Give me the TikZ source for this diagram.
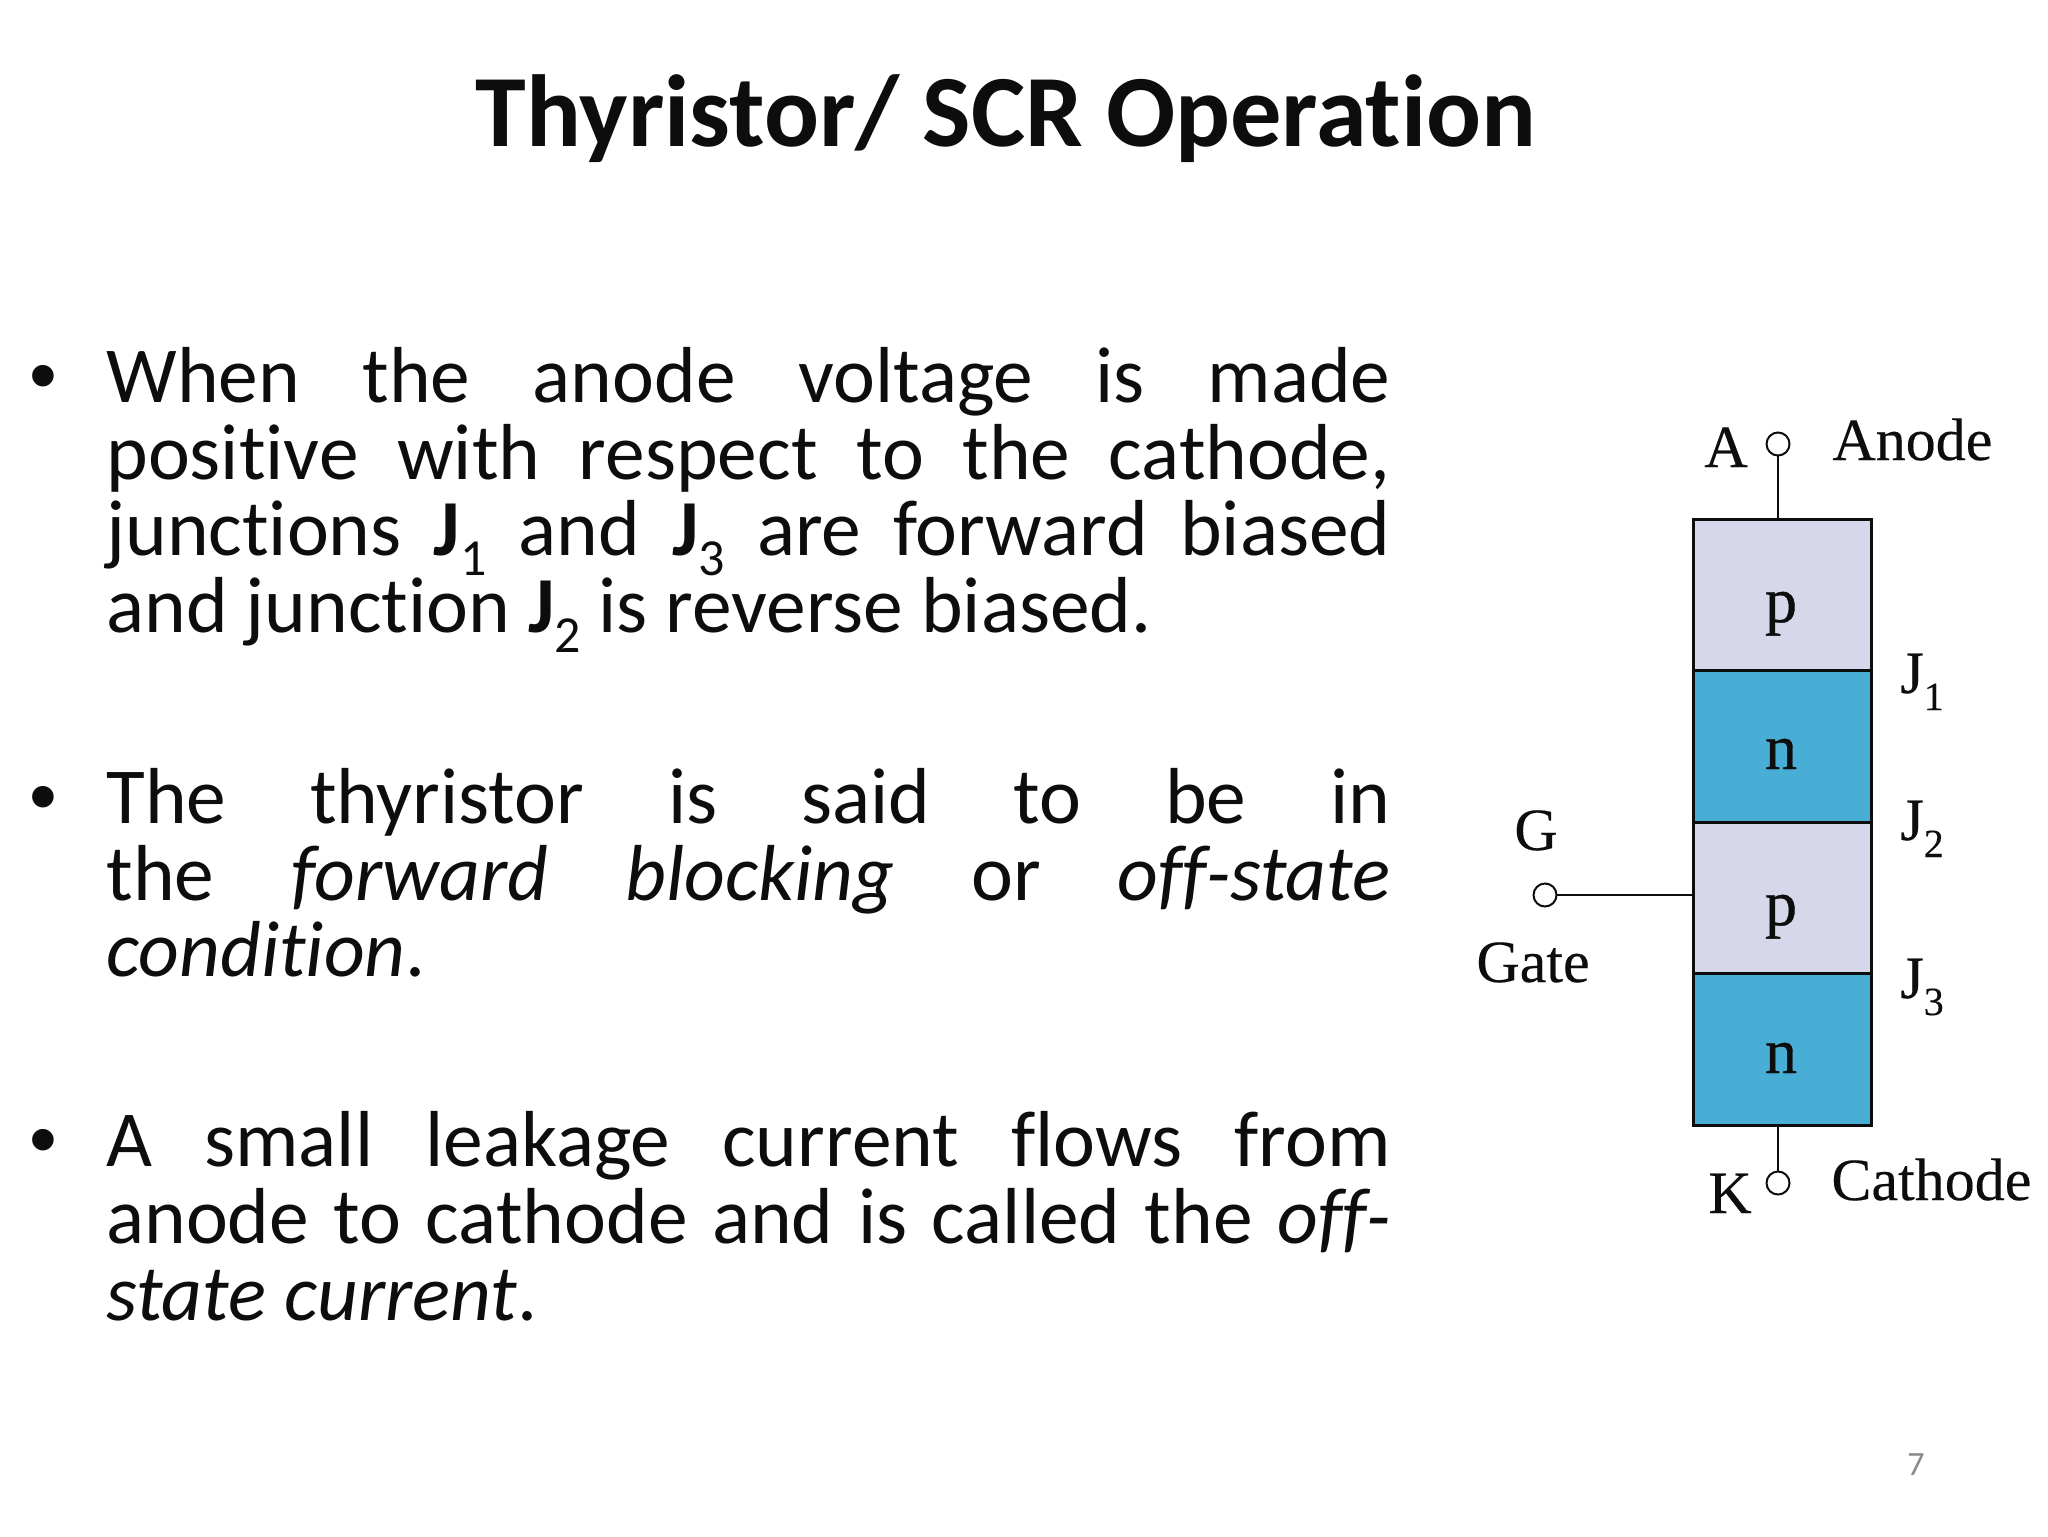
\documentclass[tikz,border=0pt]{standalone}
\usepackage{fontspec}
\setmainfont{Carlito}[Ligatures=NoCommon]
\newfontfamily\tms{Liberation Serif}[RawFeature={embolden=0.25}]
\newfontfamily\tmsx{Liberation Serif}[RawFeature={embolden=0.7}]
\newfontfamily\arl{Liberation Sans}
\definecolor{lav}{HTML}{D6D7EA}
\definecolor{cyanb}{HTML}{48AED6}
\definecolor{ink}{HTML}{0D0D0D}
\definecolor{pageno}{HTML}{898989}
\newcommand{\bsub}[1]{{\bfseries J}\raisebox{-10pt}{\fontsize{26}{26}\selectfont #1}}
\newcommand{\jsub}[1]{J\raisebox{-8.5pt}{\fontsize{20}{20}\selectfont #1}}
\newcommand{\jline}[1]{\makebox[642pt][s]{#1}}
\tikzset{
  x=0.5pt,y=-0.5pt,
  title/.style={anchor=base,inner sep=0pt,text=ink,font=\fontsize{51.2}{55}\selectfont\bfseries},
  bodyline/.style={anchor=base west,inner sep=0pt,text=ink,font=\fontsize{39.7}{44}\selectfont},
  bulletm/.style={anchor=base,inner sep=0pt,text=ink,font=\arl\fontsize{39.7}{44}\selectfont},
  layerp/.style={draw=ink,line width=1.5pt,fill=lav,minimum width=89pt,minimum height=76pt,inner sep=0pt,outer sep=0pt},
  layern/.style={draw=ink,line width=1.5pt,fill=cyanb,minimum width=89pt,minimum height=76pt,inner sep=0pt,outer sep=0pt},
  term/.style={circle,draw=ink,line width=1pt,fill=white,minimum size=11.5pt,inner sep=0pt,outer sep=0pt},
  lab/.style={anchor=base west,inner sep=0pt,text=ink,font=\tms\fontsize{30}{34}\selectfont},
  lett/.style={anchor=base,inner sep=0pt,text=ink,font=\tmsx\fontsize{32}{36}\selectfont},
  wire/.style={draw=ink,line width=1.3pt},
}
\begin{document}
\begin{tikzpicture}
\useasboundingbox[fill=white] (0,0) rectangle (2048,1536);
\node[title] (ttl) at (1006,146) {Thyristor/ SCR Operation};

\node[bulletm] (b1) at (43,402) {•};
\node[bodyline] (l1) at (106,402) {\jline{When the anode voltage is made}};
\node[bodyline] (l2) at (106,479) {\jline{positive with respect to the cathode,}};
\node[bodyline] (l3) at (106,555) {\jline{junctions \bsub{1} and \bsub{3} are forward biased}};
\node[bodyline] (l4) at (106,632) {and junction \bsub{2} is reverse biased.};

\node[bulletm] (b2) at (43,823) {•};
\node[bodyline] (l5) at (106,823) {\jline{The thyristor is said to be in}};
\node[bodyline] (l6) at (106,900) {\jline{the \textit{forward blocking} or \textit{off-state}}};
\node[bodyline] (l7) at (106,976) {\textit{condition}.};

\node[bulletm] (b3) at (43,1166) {•};
\node[bodyline] (l8) at (106,1166) {\jline{A small leakage current flows from}};
\node[bodyline] (l9) at (106,1243) {\jline{anode to cathode and is called the \textit{off-}}};
\node[bodyline] (l10) at (106,1320) {\textit{state current}.};

\node[layerp] (p1) at (1782,595) {};
\node[layern] (n1) at (1782,746.5) {};
\node[layerp] (p2) at (1782,898) {};
\node[layern] (n2) at (1782,1049.5) {};

\node[lett] (tp1) at (1781,622) {p};
\node[lett] (tn1) at (1781,769) {n};
\node[lett] (tp2) at (1781,925) {p};
\node[lett] (tn2) at (1781,1073) {n};

\node[term] (ta) at (1778,444) {};
\node[term] (tg) at (1545,895) {};
\node[term] (tk) at (1778,1183) {};

\draw[wire] (ta.south) -- (ta.south |- p1.north);
\draw[wire] (tg.east) -- (tg.east -| p2.west);
\draw[wire] (tk.north) -- (tk.north |- n2.south);

\node[lab,anchor=base] (la) at (1726,467) {A};
\node[lab] (lan) at (1832,460) {Anode};
\node[lab,anchor=base] (lg) at (1536,850) {G};
\node[lab] (lgt) at (1476,982) {Gate};
\node[lab,anchor=base] (lkk) at (1730,1213) {K};
\node[lab] (lca) at (1831,1200) {Cathode};
\node[lab] (j1) at (1900,693) {\jsub{1}};
\node[lab] (j2) at (1900,840) {\jsub{2}};
\node[lab] (j3) at (1900,998) {\jsub{3}};

\node[anchor=base,inner sep=0pt,text=pageno,font=\fontsize{17}{20}\selectfont] (pg) at (1916,1475) {7};
\end{tikzpicture}
\end{document}
